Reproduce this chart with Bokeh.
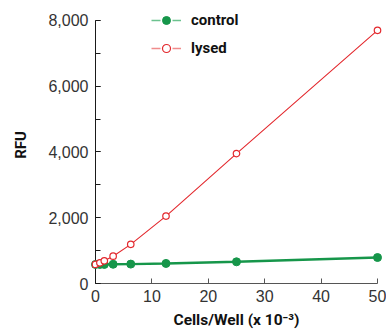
from bokeh.plotting import figure
from bokeh.models import Range1d, SingleIntervalTicker, FixedTicker, NumeralTickFormatter, Legend, LegendItem, ColumnDataSource
from bokeh.embed import file_html
from bokeh.resources import INLINE

# data
cells = [0, 0.78, 1.56, 3.125, 6.25, 12.5, 25, 50]
control = [580, 580, 580, 585, 590, 610, 660, 790]
lysed = [580, 630, 690, 830, 1190, 2050, 3950, 7700]
x_ticks = [0, 10, 20, 30, 40, 50]
series_names = ["control", "lysed"]

GREEN = "#16964a"
RED = "#e3282d"
LABEL_FONT = "Roboto"

p = figure(width=386, height=331, output_backend="svg", toolbar_location=None,
           x_range=Range1d(0, 50), y_range=Range1d(0, 8424),
           min_border_left=95, min_border_right=9, min_border_top=6, min_border_bottom=47)
p.outline_line_color = None
p.xgrid.visible = False
p.ygrid.visible = False
p.background_fill_color = "white"
p.border_fill_color = "white"

src = ColumnDataSource(dict(x=cells, c=control, l=lysed))

p.line("x", "c", source=src, line_color=GREEN, line_width=2.4)
sc = p.scatter("x", "c", source=src, size=8, marker="circle", fill_color=GREEN, line_color=GREEN, level="overlay")
p.line("x", "l", source=src, line_color=RED, line_width=1.1)
sl = p.scatter("x", "l", source=src, size=6.5, marker="circle", fill_color="white", line_color=RED, line_width=1.2, level="overlay")

# legend-only dashed lines (draw nothing in the plot)
blank = ColumnDataSource(dict(x=[float("nan")], y=[float("nan")]))
dc = p.line("x", "y", source=blank, line_color="#6cc28f", line_width=1.5, line_dash="9 12")
dl = p.line("x", "y", source=blank, line_color="#f08c8c", line_width=1.5, line_dash="9 12")

legend = Legend(items=[LegendItem(label=series_names[0], renderers=[dc, sc]),
                       LegendItem(label=series_names[1], renderers=[dl, sl])],
                location=(56, 225), padding=0, margin=0, spacing=8,
                glyph_width=30, glyph_height=20, label_height=20, label_standoff=10,
                label_text_font=LABEL_FONT, label_text_font_style="bold",
                label_text_font_size="15px", label_text_color="#111111",
                border_line_alpha=0, background_fill_alpha=0)
p.add_layout(legend, "center")

xa = p.xaxis[0]
xa.ticker = FixedTicker(ticks=x_ticks)
xa.major_tick_in = 5
xa.major_tick_out = 0
xa.minor_tick_in = 0
xa.minor_tick_out = 0
xa.axis_line_color = "#555555"
xa.major_tick_line_color = "#555555"
xa.major_label_text_font = "Liberation Sans"
xa.major_label_text_font_size = "16px"
xa.major_label_text_color = "#333333"
xa.major_label_standoff = 6
xa.axis_label = "Cells/Well (x 10\u207b\u00b3)"
xa.axis_label_text_font = LABEL_FONT
xa.axis_label_text_font_style = "bold"
xa.axis_label_text_font_size = "15.5px"
xa.axis_label_text_color = "#111111"
xa.axis_label_standoff = 6

ya = p.yaxis[0]
ya.ticker = SingleIntervalTicker(interval=2000, num_minor_ticks=2)
ya.formatter = NumeralTickFormatter(format="0,0")
ya.bounds = (0, 8000)
ya.major_tick_in = 5
ya.major_tick_out = 0
ya.minor_tick_in = 5
ya.minor_tick_out = 0
ya.axis_line_color = "#1a1a1a"
ya.major_tick_line_color = "#1a1a1a"
ya.minor_tick_line_color = "#1a1a1a"
ya.major_label_text_font = "Liberation Sans"
ya.major_label_text_font_size = "16px"
ya.major_label_text_color = "#333333"
ya.major_label_standoff = 7
ya.axis_label = "RFU"
ya.axis_label_text_font = LABEL_FONT
ya.axis_label_text_font_style = "bold"
ya.axis_label_text_font_size = "15px"
ya.axis_label_text_color = "#111111"
ya.axis_label_standoff = 15

open("out.html", "w").write(file_html(p, INLINE))
